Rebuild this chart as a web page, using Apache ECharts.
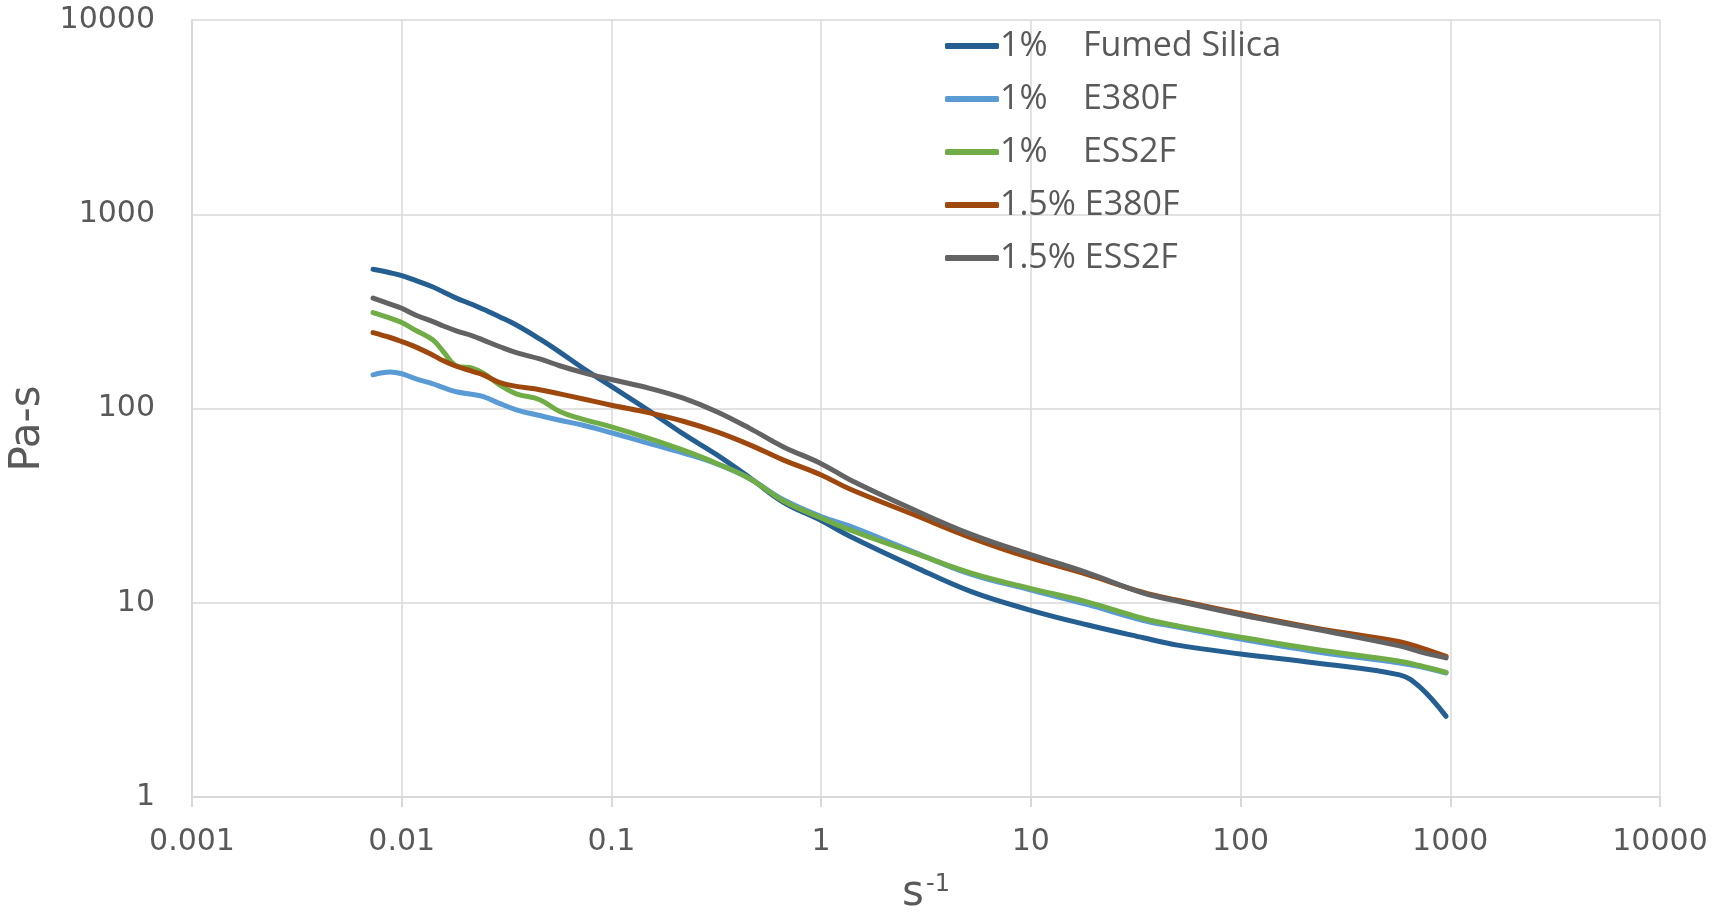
<!DOCTYPE html>
<html>
<head>
<meta charset="utf-8">
<script src="https://cdn.jsdelivr.net/npm/echarts@6/dist/echarts.min.js"></script>
<style>
html,body{margin:0;padding:0;background:#fff;}
#chart{width:1731px;height:916px;}
</style>
</head>
<body>
<div id="chart"></div>
<script>
// Shear rate (s^-1)
const rate = [0.0073, 0.0088, 0.01, 0.0117, 0.0141, 0.0158, 0.0182, 0.0219, 0.0245, 0.0294, 0.0352, 0.0455, 0.0567, 0.0733, 0.1, 0.152, 0.22, 0.316, 0.457, 0.658, 1, 1.37, 2.79, 5.2, 9.8, 18.5, 34.4, 50, 100, 229, 573, 713, 955];

const fumedSilica1 = [521, 500, 483, 455, 422, 398, 370, 342, 324, 296, 269, 228, 195, 161, 130, 97, 74, 58, 44, 33, 26.5, 22, 15.3, 11.4, 9.2, 7.7, 6.6, 6.05, 5.45, 4.9, 4.25, 3.7, 2.6];
const e380f1 = [149, 154, 151, 142, 134, 128, 122, 118, 115, 106, 98.5, 92, 87, 82, 75, 66, 59, 52, 43.5, 34, 27.8, 24.8, 18.2, 14.0, 11.7, 9.8, 8.1, 7.5, 6.5, 5.6, 4.9, 4.7, 4.35];
const ess2f1 = [312, 292, 277, 252, 225, 196, 166, 161, 152, 132, 119, 111, 96.5, 88, 80.5, 70, 61, 52.3, 43.5, 33.5, 27.3, 23.7, 18.0, 14.2, 11.9, 10.1, 8.3, 7.6, 6.65, 5.75, 5.0, 4.75, 4.38];
const e380f15 = [246, 232, 221, 207, 188, 176, 165, 155, 149, 136, 130, 125, 119, 112, 104, 95, 86, 76, 65, 54.4, 45.5, 38.5, 28.3, 21.6, 17.1, 14.0, 11.3, 10.3, 8.8, 7.4, 6.3, 5.9, 5.3];
const ess2f15 = [370, 345, 328, 302, 280, 266, 251, 236, 225, 208, 194, 180, 166, 153, 141, 127, 113, 96.5, 79, 63.6, 52, 43, 30, 22.5, 17.8, 14.3, 11.2, 10.2, 8.67, 7.3, 6.0, 5.6, 5.2];

const seriesNames = ['1%    Fumed Silica', '1%    E380F', '1%    ESS2F', '1.5% E380F', '1.5% ESS2F'];
const seriesColors = ['#255e91', '#5b9bd5', '#70ad47', '#9e480e', '#636363'];
const seriesValues = [fumedSilica1, e380f1, ess2f1, e380f15, ess2f15];

const xTickLabels = ['0.001', '0.01', '0.1', '1', '10', '100', '1000', '10000'];
const yTickLabels = ['1', '10', '100', '1000', '10000'];

const chart = echarts.init(document.getElementById('chart'));
const labelColor = '#595959';
const gridColor = '#d9d9d9';

const series = seriesNames.map((name, k) => ({
  name: name,
  type: 'line',
  smooth: 0.4,
  symbol: 'none',
  data: rate.map((r, i) => [r, seriesValues[k][i]]),
  lineStyle: { color: seriesColors[k], width: 5, cap: 'round' },
  itemStyle: { color: seriesColors[k] },
  z: 2 + k
}));

chart.setOption({
  animation: false,
  backgroundColor: '#fff',
  grid: { left: 192, right: 71, top: 20, bottom: 119, containLabel: false, outerBoundsMode: 'none' },
  legend: {
    orient: 'vertical',
    left: 940,
    top: 24,
    icon: 'roundRect',
    itemWidth: 54,
    itemHeight: 6,
    itemGap: 19,
    textStyle: { color: labelColor, fontSize: 34, fontFamily: 'Open Sans', padding: [0, 0, 0, -4] },
    data: seriesNames
  },
  xAxis: {
    type: 'log',
    logBase: 10,
    min: 0.001,
    max: 10000,
    name: '{a|s}{b|-1}',
    nameLocation: 'middle',
    nameGap: 76,
    nameTextStyle: {
      rich: {
        a: { fontSize: 42, color: labelColor, fontFamily: 'DejaVu Sans', verticalAlign: 'bottom' },
        b: { fontSize: 24, color: labelColor, fontFamily: 'DejaVu Sans', verticalAlign: 'top', padding: [0, 0, 18, 2] }
      }
    },
    axisLine: { show: true, lineStyle: { color: gridColor, width: 2 } },
    axisTick: { show: true, length: 10, lineStyle: { color: gridColor, width: 2 } },
    axisLabel: {
      color: labelColor, fontSize: 30, fontFamily: 'DejaVu Sans', margin: 30,
      formatter: v => xTickLabels[Math.round(Math.log10(v)) + 3]
    },
    splitLine: { show: true, lineStyle: { color: gridColor, width: 1.5 } }
  },
  yAxis: {
    type: 'log',
    logBase: 10,
    min: 1,
    max: 10000,
    name: 'Pa-s',
    nameLocation: 'middle',
    nameGap: 140,
    nameTextStyle: { color: labelColor, fontSize: 42, fontFamily: 'DejaVu Sans', padding: [0, 40, 0, 0] },
    axisLine: { show: true, lineStyle: { color: gridColor, width: 2 } },
    axisTick: { show: false },
    axisLabel: {
      color: labelColor, fontSize: 30, fontFamily: 'DejaVu Sans', margin: 37,
      formatter: v => yTickLabels[Math.round(Math.log10(v))]
    },
    splitLine: { show: true, lineStyle: { color: gridColor, width: 1.5 } }
  },
  series: series
});
</script>
</body>
</html>
